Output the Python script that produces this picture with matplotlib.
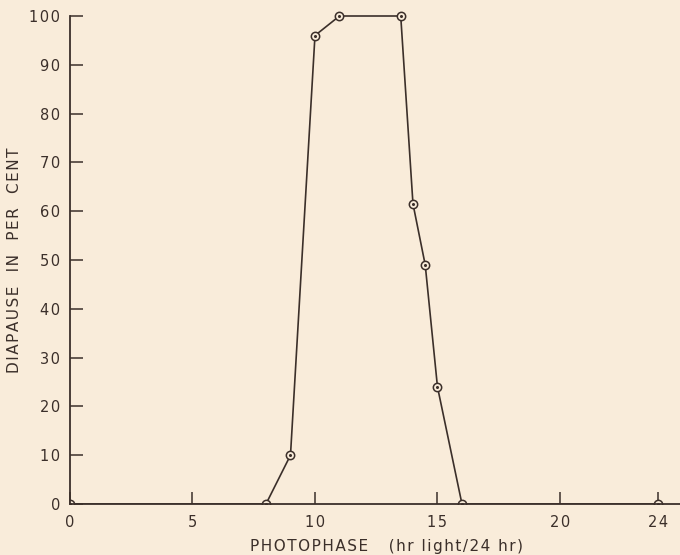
import matplotlib

matplotlib.use("Agg")
import matplotlib.pyplot as plt

# photophase (hr light / 24 hr) vs. diapause in per cent
photophase = [0, 8, 9, 10, 11, 13.5, 14, 14.5, 15, 16, 24]
diapause = [0, 0, 10, 96, 100, 100, 61.5, 49, 24, 0, 0]

x_ticks = [0, 5, 10, 15, 20, 24]
y_ticks = [0, 10, 20, 30, 40, 50, 60, 70, 80, 90, 100]

x_label = "PHOTOPHASE   (hr light/24 hr)"
y_label = "DIAPAUSE  IN  PER  CENT"

bg = "#f9ecda"
ink = "#3b2f2a"


def spaced(text: str) -> str:
    # old typewriter-style lettering is wide, pad letters with hair spaces
    return "\u200a".join(text)


plt.rcParams["font.family"] = ["DejaVu Sans"]

fig = plt.figure(figsize=(6.8, 5.55), dpi=100, facecolor=bg)
top_px = 16 - 0.02 * 488
ax = fig.add_axes([70 / 680, 1 - 504 / 555, 1 - 70 / 680, (504 - top_px) / 555])
ax.set_facecolor(bg)

ax.plot(photophase, diapause, color=ink, linewidth=1.2, marker="o", markersize=6,
        markerfacecolor=bg, markeredgecolor=ink, markeredgewidth=1.1)
ax.plot(photophase, diapause, linestyle="none", marker="o", markersize=1.2, color=ink)

ax.set_xlim(0, 24.9)
ax.set_ylim(0, 102)

for side in ("top", "right"):
    ax.spines[side].set_visible(False)
for side in ("left", "bottom"):
    ax.spines[side].set_color(ink)
    ax.spines[side].set_linewidth(1.3)
ax.spines["left"].set_bounds(0, 100)

ax.set_xticks(x_ticks)
ax.set_yticks(y_ticks)
ax.set_xticklabels([spaced(str(t)) for t in x_ticks])
ax.set_yticklabels([spaced(str(t)) for t in y_ticks])
ax.tick_params(axis="both", direction="in", length=9, width=1.1, color=ink,
               labelcolor=ink, labelsize=10.5)
ax.tick_params(axis="x", pad=8)
ax.tick_params(axis="y", pad=7)

fig.text(387 / 680, 1 - 547 / 555, spaced(x_label), ha="center", va="center",
         fontsize=11, color=ink)
fig.text(15 / 680, 1 - 260 / 555, spaced(y_label), ha="center", va="center",
         rotation=90, fontsize=11, color=ink)

fig.savefig("out.png", dpi=100, facecolor=bg)
